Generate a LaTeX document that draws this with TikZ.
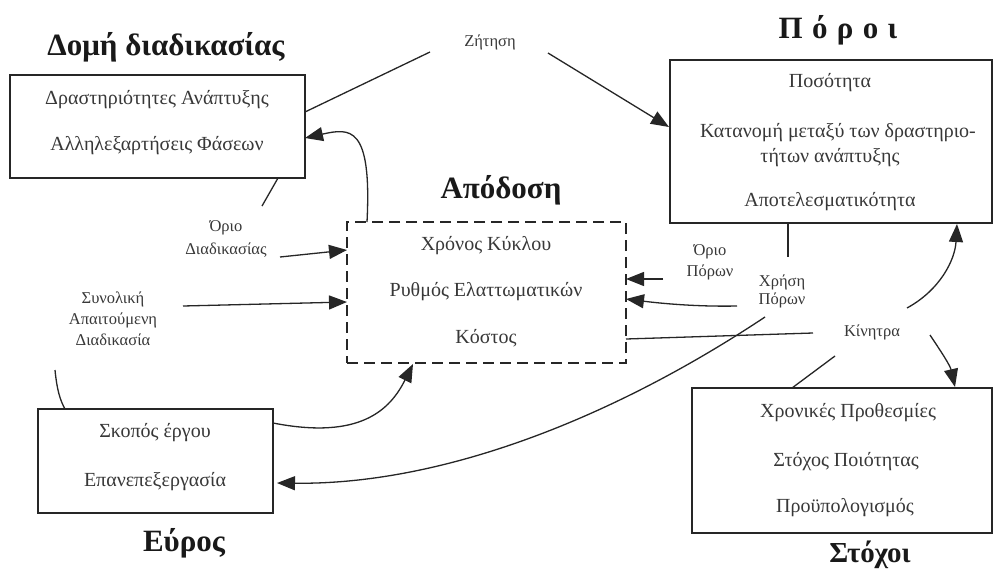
\documentclass[tikz,border=0pt]{standalone}
\usepackage{fontspec}
\setmainfont{Liberation Serif}
\usetikzlibrary{arrows.meta,calc}
\definecolor{ink}{HTML}{262626}
\definecolor{txt}{HTML}{383838}

\begin{document}
\begin{tikzpicture}[x=1pt,y=-1pt,
  box/.style={draw=ink, line width=1.5pt, inner sep=0pt, outer sep=0pt},
  dbox/.style={box, dash pattern=on 11pt off 6pt},
  title/.style={font=\fontsize{31}{34}\selectfont\bfseries, text=black!90, inner sep=0pt},
  item/.style={font=\fontsize{20}{24}\selectfont, text=txt, inner sep=0pt},
  lab/.style={font=\fontsize{16.5}{21}\selectfont, text=txt, inner sep=0pt, align=center},
  conn/.style={draw=ink, line width=1.3pt},
  arr/.style={conn, -{Triangle[length=18pt,width=14pt]}},
]
\fill[white] (0,0) rectangle (994,574);
\useasboundingbox (0,0) rectangle (994,574);

% frames
\node[box, minimum width=295pt, minimum height=103pt] (dom) at (157.5,126.5) {};
\node[box, minimum width=322pt, minimum height=163pt] (por) at (831,141.5) {};
\node[dbox, minimum width=279pt, minimum height=141pt] (apo) at (486.5,292.5) {};
\node[box, minimum width=235pt, minimum height=104pt] (eur) at (155.5,461) {};
\node[box, minimum width=300pt, minimum height=145pt] (sto) at (842,460.5) {};

% headings
\node[title] (tdom) at (166,47) {Δομή διαδικασίας};
\node[title] (tpor) at (838,30) {Π\hspace{0.3em}ό\hspace{0.3em}ρ\hspace{0.3em}ο\hspace{0.3em}ι};
\node[title] (tapo) at (501,190) {Απόδοση};
\node[title] (teur) at (184,543) {Εύρος};
\node[title, font=\fontsize{29}{32}\selectfont\bfseries] (tsto) at (870,555) {Στόχοι};

% frame contents
\node[item] (d1) at (157,100) {Δραστηριότητες Ανάπτυξης};
\node[item] (d2) at (157,146) {Αλληλεξαρτήσεις Φάσεων};
\node[item] (p1) at (830,83) {Ποσότητα};
\node[item] (p2) at (838,133) {Κατανομή μεταξύ των δραστηριο-};
\node[item] (p3) at (830,158) {τήτων ανάπτυξης};
\node[item] (p4) at (830,202) {Αποτελεσματικότητα};
\node[item] (a1) at (486,246) {Χρόνος Κύκλου};
\node[item] (a2) at (486,292) {Ρυθμός Ελαττωματικών};
\node[item] (a3) at (486,338) {Κόστος};
\node[item] (e1) at (155,433) {Σκοπός έργου};
\node[item] (e2) at (155,482) {Επανεπεξεργασία};
\node[item] (s1) at (848,413) {Χρονικές Προθεσμίες};
\node[item] (s2) at (846,462) {Στόχος Ποιότητας};
\node[item] (s3) at (845,508) {Προϋπολογισμός};

% link labels
\node[lab] (zit) at (490,42) {Ζήτηση};
\node[lab] (oriod) at (226,239) {Όριο\\[2pt]Διαδικασίας};
\node[lab] (synol) at (113,319) {Συνολική\\Απαιτούμενη\\Διαδικασία};
\node[lab] (oriop) at (710,262) {Όριο\\Πόρων};
\node[lab] (xrisi) at (782,291) {Χρήση\\[-3pt]Πόρων};
\node[lab] (kin) at (872,332) {Κίνητρα};

% links
\draw[conn] ($(dom.north east)+(0,37)$) -- ($(zit)+(-60,10)$);
\draw[arr] ($(zit)+(58,11)$) -- ($(por.north west)+(-1,67)$);
\draw[arr] ($(apo.north west)+(20,0)$) .. controls (372,125) and (350,128) .. ($(dom.north east)+(0,63)$);
\draw[conn] ($(dom.south west)+(268,0)$) -- ($(oriod)+(36,-33)$);
\draw[arr] ($(oriod)+(54,18)$) -- ($(apo.north west)+(0,28)$);
\draw[arr] ($(synol)+(70,-13)$) -- ($(apo.north west)+(0,80)$);
\draw[conn] ($(synol)+(-58,51)$) .. controls (57,390) and (60,400) .. ($(eur.north west)+(27,0)$);
\draw[arr] ($(eur.north east)+(0,14)$) .. controls (360,440) and (390,410) .. ($(apo.south west)+(66,1)$);
\draw[arr] ($(xrisi)+(-17,26)$) .. controls (610,420) and (440,485) .. ($(eur.north east)+(4,74)$);
\draw[conn] ($(por.south west)+(118,0)$) -- ($(xrisi)+(6,-34)$);
\draw[arr] ($(oriop)+(-47,17)$) -- ($(apo.north east)+(0,57)$);
\draw[arr] ($(xrisi)+(-45,15)$) .. controls (690,307) and (650,302) .. ($(apo.north east)+(0,77)$);
\draw[conn] ($(apo.north east)+(0,117)$) -- ($(kin)+(-59,1)$);
\draw[arr] ($(kin)+(35,-24)$) .. controls (940,290) and (955,260) .. ($(por.south west)+(287,1)$);
\draw[arr] ($(kin)+(58,3)$) .. controls (940,350) and (950,365) .. ($(sto.north west)+(263,-1)$);
\draw[conn] ($(sto.north west)+(100,0)$) -- ($(kin)+(-37,24)$);
\end{tikzpicture}
\end{document}
